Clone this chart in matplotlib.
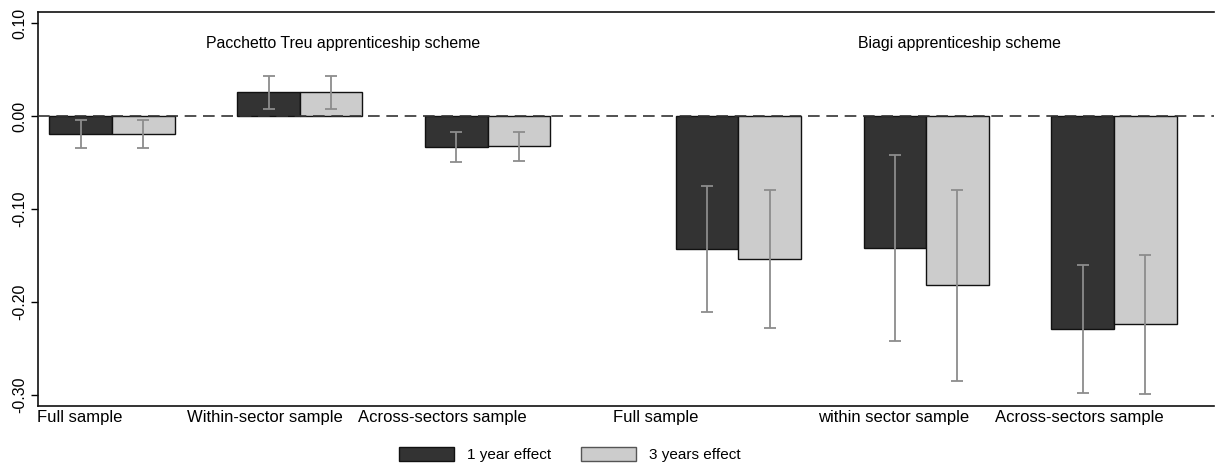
import matplotlib
matplotlib.use("Agg")
import matplotlib.pyplot as plt
from matplotlib.patches import Patch
import numpy as np

plt.rcParams['font.family'] = ['Liberation Sans', 'DejaVu Sans']

# Estimated effects and 95% intervals per sample
categories = ["Full sample", "Within-sector sample", "Across-sectors sample",
              "Full sample", "within sector sample", "Across-sectors sample"]
effect_1y = [-0.019, 0.026, -0.033, -0.143, -0.142, -0.229]
ci_1y_low = [-0.034, 0.008, -0.049, -0.211, -0.242, -0.298]
ci_1y_high = [-0.004, 0.043, -0.017, -0.075, -0.042, -0.160]
effect_3y = [-0.019, 0.026, -0.032, -0.154, -0.182, -0.224]
ci_3y_low = [-0.034, 0.008, -0.048, -0.228, -0.285, -0.299]
ci_3y_high = [-0.004, 0.043, -0.017, -0.080, -0.080, -0.150]
scheme_titles = ["Pacchetto Treu apprenticeship scheme", "Biagi apprenticeship scheme"]
y_ticks = [0.10, 0.00, -0.10, -0.20, -0.30]

dark = "#333333"
light = "#cccccc"
err_col = "#8c8c8c"

fig = plt.figure(figsize=(12.15, 4.68), dpi=100)
ax = fig.add_axes([0.0313, 0.1325, 0.9679, 0.8419])

# groups 0-2 belong to the first scheme, 3-5 to the second, with a wider gap between
pos = np.array([0, 1, 2, 3.335, 4.335, 5.335])
w = 1 / 3

ax.bar(pos - w / 2, effect_1y, width=w, color=dark, edgecolor="#111111", linewidth=1.0, zorder=2)
ax.bar(pos + w / 2, effect_3y, width=w, color=light, edgecolor="#111111", linewidth=1.0, zorder=2)

e1 = np.array(effect_1y)
e3 = np.array(effect_3y)
ax.errorbar(pos - w / 2, e1,
            yerr=[e1 - np.array(ci_1y_low), np.array(ci_1y_high) - e1],
            fmt="none", ecolor=err_col, elinewidth=1.3, capsize=4, capthick=1.3, zorder=3)
ax.errorbar(pos + w / 2, e3,
            yerr=[e3 - np.array(ci_3y_low), np.array(ci_3y_high) - e3],
            fmt="none", ecolor=err_col, elinewidth=1.3, capsize=4, capthick=1.3, zorder=3)

ax.axhline(0, color="#333333", linestyle=(0, (7, 4)), linewidth=1.2, zorder=4)

ax.set_xlim(-0.394, 5.868)
ax.set_ylim(-0.312, 0.112)
ax.set_yticks(y_ticks)
ax.set_yticklabels([f"{t:.2f}" for t in y_ticks], rotation=90, va="center", fontsize=11.5)
ax.tick_params(axis="y", length=5, width=1, pad=3)
ax.set_xticks([])

for s in ax.spines.values():
    s.set_linewidth(1.2)
    s.set_color("#111111")
ax.spines["right"].set_visible(False)

# category labels below the axis
label_x = [-0.001, 0.127, 0.272, 0.489, 0.663, 0.814]
for lx, lab in zip(label_x, categories):
    ax.text(lx, -0.01, lab, transform=ax.transAxes, ha="left", va="top", fontsize=12)

ax.text(1.23, 0.078, scheme_titles[0], ha="center", va="center", fontsize=11.4)
ax.text(4.515, 0.078, scheme_titles[1], ha="center", va="center", fontsize=11.4)

handles = [Patch(facecolor=dark, edgecolor="#111111", label="1 year effect"),
           Patch(facecolor=light, edgecolor="#555555", label="3 years effect")]
fig.legend(handles=handles, loc="center", bbox_to_anchor=(0.469, 0.028), ncol=2,
           frameon=False, fontsize=11, handlelength=3.6, handleheight=1.0,
           handletextpad=0.8, columnspacing=2.0)

fig.savefig("out.png", dpi=100)
